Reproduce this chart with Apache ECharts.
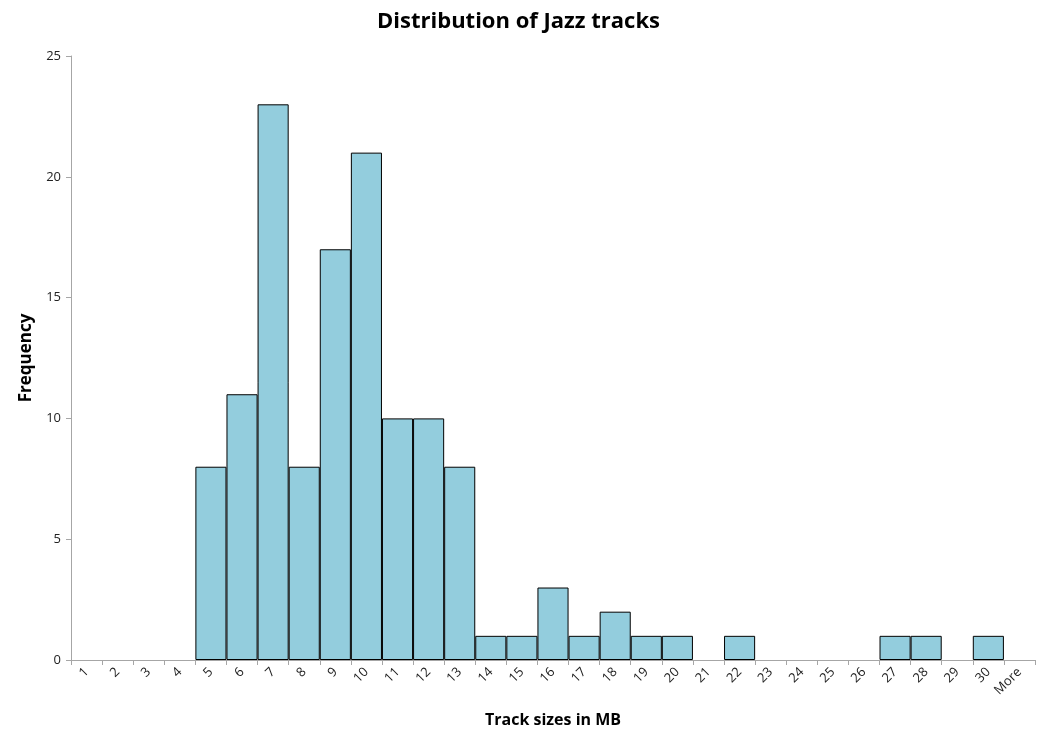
<!DOCTYPE html>
<html><head><meta charset="utf-8">
<script src="https://cdn.jsdelivr.net/npm/echarts@6/dist/echarts.min.js"></script>
<style>html,body{margin:0;padding:0;background:#fff}#c{width:1037px;height:736px}</style>
</head><body><div id="c"></div>
<script>
const categories = ['1','2','3','4','5','6','7','8','9','10','11','12','13','14','15','16','17','18','19','20','21','22','23','24','25','26','27','28','29','30','More'];
const frequency = [0,0,0,0,8,11,23,8,17,21,10,10,8,1,1,3,1,2,1,1,0,1,0,0,0,0,1,1,0,1,0];
const yTicks = [0,5,10,15,20,25];
const font = 'Open Sans, Liberation Sans, sans-serif';
const chart = echarts.init(document.getElementById('c'));
chart.setOption({
  animation:false,
  title:{text:'Distribution of Jazz tracks',left:'center',top:6,textStyle:{fontFamily:font,fontSize:22,fontWeight:'bold',color:'#000'}},
  grid:{left:71,right:2,top:56,bottom:76,outerBoundsMode:'none',containLabel:false},
  xAxis:{type:'category',data:categories,
    name:'Track sizes in MB',nameLocation:'middle',nameGap:52,
    nameTextStyle:{fontFamily:font,fontSize:16,fontWeight:'bold',color:'#000'},
    axisLine:{lineStyle:{color:'#a6a6a6'}},
    axisTick:{show:true,alignWithLabel:false,length:5,lineStyle:{color:'#a6a6a6'}},
    axisLabel:{rotate:45,fontFamily:font,fontSize:13,color:'#222',interval:0,margin:10}},
  yAxis:{type:'value',min:yTicks[0],max:yTicks[yTicks.length-1],interval:5,
    name:'Frequency',nameLocation:'middle',nameGap:36,nameRotate:90,
    nameTextStyle:{fontFamily:font,fontSize:17,fontWeight:'bold',color:'#000'},
    axisLine:{show:true,lineStyle:{color:'#a6a6a6'}},
    axisTick:{show:true,length:5,lineStyle:{color:'#a6a6a6'}},
    splitLine:{show:false},
    axisLabel:{fontFamily:font,fontSize:13,color:'#222',margin:10}},
  series:[{type:'bar',data:frequency.map(v => v === 0 ? '-' : v),barCategoryGap:'0%',
    itemStyle:{color:'#93cddd',borderColor:'#000',borderWidth:1}}]
});
</script></body></html>
